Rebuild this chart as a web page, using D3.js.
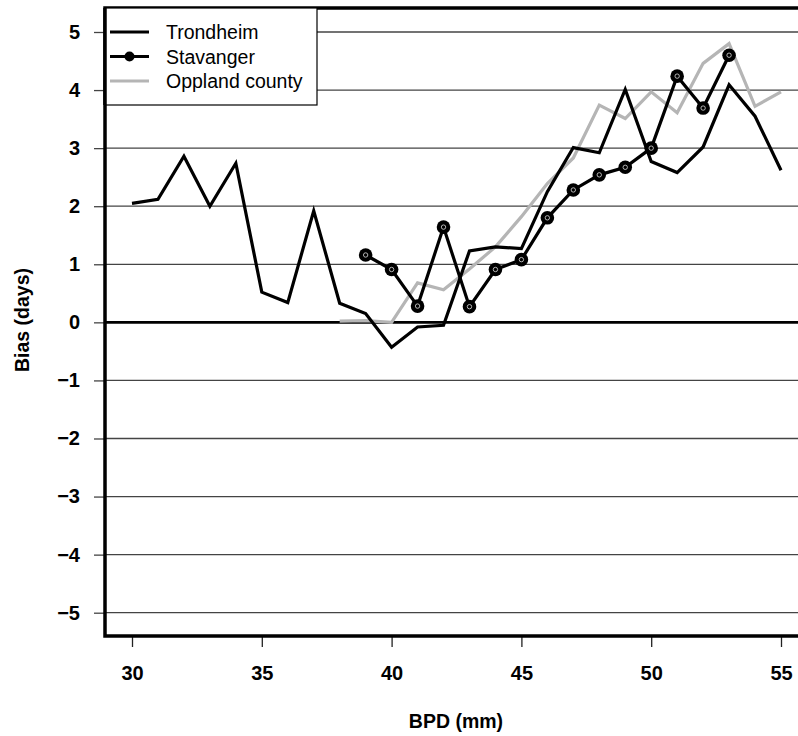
<!DOCTYPE html>
<html>
<head>
  <title>Bias by BPD</title>
  <script src="https://cdn.jsdelivr.net/npm/d3@7/dist/d3.min.js"></script>
  <style>
    body { margin: 0; background: #fff; }
    text { font-family: "Liberation Sans", Arial, sans-serif; }
  </style>
</head>
<body>
  <svg width="798" height="736"></svg>
  <script>
    // data
    const trondheimX = d3.range(30, 56);
    const trondheimY = [2.05, 2.12, 2.86, 2.0, 2.74, 0.52, 0.34, 1.92, 0.33, 0.15,
      -0.43, -0.08, -0.05, 1.23, 1.30, 1.27, 2.25, 3.01, 2.92, 4.01,
      2.77, 2.58, 3.02, 4.09, 3.55, 2.62];
    const stavangerX = d3.range(39, 54);
    const stavangerY = [1.16, 0.91, 0.28, 1.64, 0.27, 0.91, 1.08, 1.8, 2.28, 2.54,
      2.67, 3.0, 4.24, 3.69, 4.6];
    const opplandX = d3.range(38, 56);
    const opplandY = [0.02, 0.03, 0.0, 0.68, 0.56, 0.92, 1.3, 1.82, 2.39, 2.83,
      3.74, 3.51, 3.97, 3.61, 4.46, 4.8, 3.72, 3.97];
    const yTicks = [-5, -4, -3, -2, -1, 0, 1, 2, 3, 4, 5];
    const xTicks = [30, 35, 40, 45, 50, 55];

    const svg = d3.select('svg');
    const plotLeft = 105, plotRight = 798, plotTop = 8, plotBottom = 636;
    const tickFs = '20px';
    const labelFs = '19.5px';

    const x = d3.scaleLinear().domain([30, 55]).range([132, 781]);
    const y = d3.scaleLinear().domain([-5, 5]).range([612.7, 32]);

    // horizontal grid lines
    svg.append('g')
      .selectAll('line')
      .data(yTicks)
      .enter()
      .append('line')
      .attr('x1', plotLeft)
      .attr('x2', plotRight)
      .attr('y1', d => y(d))
      .attr('y2', d => y(d))
      .style('stroke', d => d === 0 ? '#000' : '#444')
      .style('stroke-width', d => d === 0 ? 2.6 : 1.3);

    // y axis
    const yAxis = svg.append('g')
      .attr('transform', `translate(${plotLeft},0)`)
      .call(d3.axisLeft(y).tickValues(yTicks).tickSize(11).tickPadding(14)
        .tickFormat(d => d < 0 ? '\u2212' + Math.abs(d) : d));
    yAxis.select('.domain').remove();
    yAxis.selectAll('line').style('stroke', '#444').style('stroke-width', 1.3);
    yAxis.selectAll('text').style('font-size', tickFs).style('font-weight', 'bold').attr('fill', '#000');

    // x axis
    const xAxis = svg.append('g')
      .attr('transform', `translate(0,${plotBottom})`)
      .call(d3.axisBottom(x).tickValues(xTicks).tickSize(11).tickPadding(19));
    xAxis.select('.domain').remove();
    xAxis.selectAll('line').style('stroke', '#222').style('stroke-width', 1.3);
    xAxis.selectAll('text').style('font-size', tickFs).style('font-weight', 'bold').attr('fill', '#000');

    // frame: left, bottom, top
    svg.append('path')
      .attr('d', `M${plotRight},${plotTop}H${plotLeft}V${plotBottom}H${plotRight}`)
      .style('fill', 'none')
      .style('stroke', '#000')
      .style('stroke-width', 3.5);

    const line = d3.line().x(d => x(d[0])).y(d => y(d[1]));

    const series = [
      { name: 'Trondheim', xs: trondheimX, ys: trondheimY, color: '#000', dots: false },
      { name: 'Stavanger', xs: stavangerX, ys: stavangerY, color: '#000', dots: true },
      { name: 'Oppland county', xs: opplandX, ys: opplandY, color: '#b5b5b5', dots: false }
    ];

    const drawOrder = [series[2], series[0], series[1]];
    drawOrder.forEach(s => {
      const pts = s.xs.map((v, i) => [v, s.ys[i]]);
      svg.append('path')
        .datum(pts)
        .attr('d', line)
        .style('fill', 'none')
        .style('stroke', s.color)
        .style('stroke-width', 3.2)
        .style('stroke-linejoin', 'miter');
      if (s.dots) {
        const g = svg.append('g')
          .selectAll('g')
          .data(pts)
          .enter()
          .append('g')
          .attr('transform', d => `translate(${x(d[0])},${y(d[1])})`);
        g.append('circle').attr('r', 6.8).style('fill', '#000');
        g.append('circle').attr('r', 2.2).style('fill', 'none').style('stroke', '#ddd').style('stroke-width', 0.8);
      }
    });

    // legend
    const legend = svg.append('g');
    legend.append('rect')
      .attr('x', plotLeft)
      .attr('y', plotTop)
      .attr('width', 212)
      .attr('height', 97)
      .style('fill', '#fff')
      .style('stroke', '#000')
      .style('stroke-width', 1.2);
    svg.append('line')
      .attr('x1', plotLeft).attr('x2', plotLeft).attr('y1', plotTop).attr('y2', plotTop + 97)
      .style('stroke', '#000').style('stroke-width', 3.5);

    const item = legend.selectAll('.item')
      .data(series)
      .enter()
      .append('g')
      .attr('class', 'item')
      .attr('transform', (d, i) => `translate(0,${32 + i * 24.5})`);
    item.append('line')
      .attr('x1', 110).attr('x2', 149)
      .style('stroke', d => d.color)
      .style('stroke-width', 3.2);
    item.filter(d => d.dots).append('circle')
      .attr('cx', 129.5).attr('r', 5).style('fill', '#000');
    item.append('text')
      .attr('x', 166)
      .attr('dy', '0.36em')
      .style('font-size', labelFs)
      .text(d => d.name);

    // axis titles
    svg.append('text')
      .attr('x', 456)
      .attr('y', 728)
      .attr('text-anchor', 'middle')
      .style('font-size', labelFs)
      .style('font-weight', 'bold')
      .text('BPD (mm)');
    svg.append('text')
      .attr('transform', 'translate(29,320) rotate(-90)')
      .attr('text-anchor', 'middle')
      .style('font-size', labelFs)
      .style('font-weight', 'bold')
      .text('Bias (days)');
  </script>
</body>
</html>
